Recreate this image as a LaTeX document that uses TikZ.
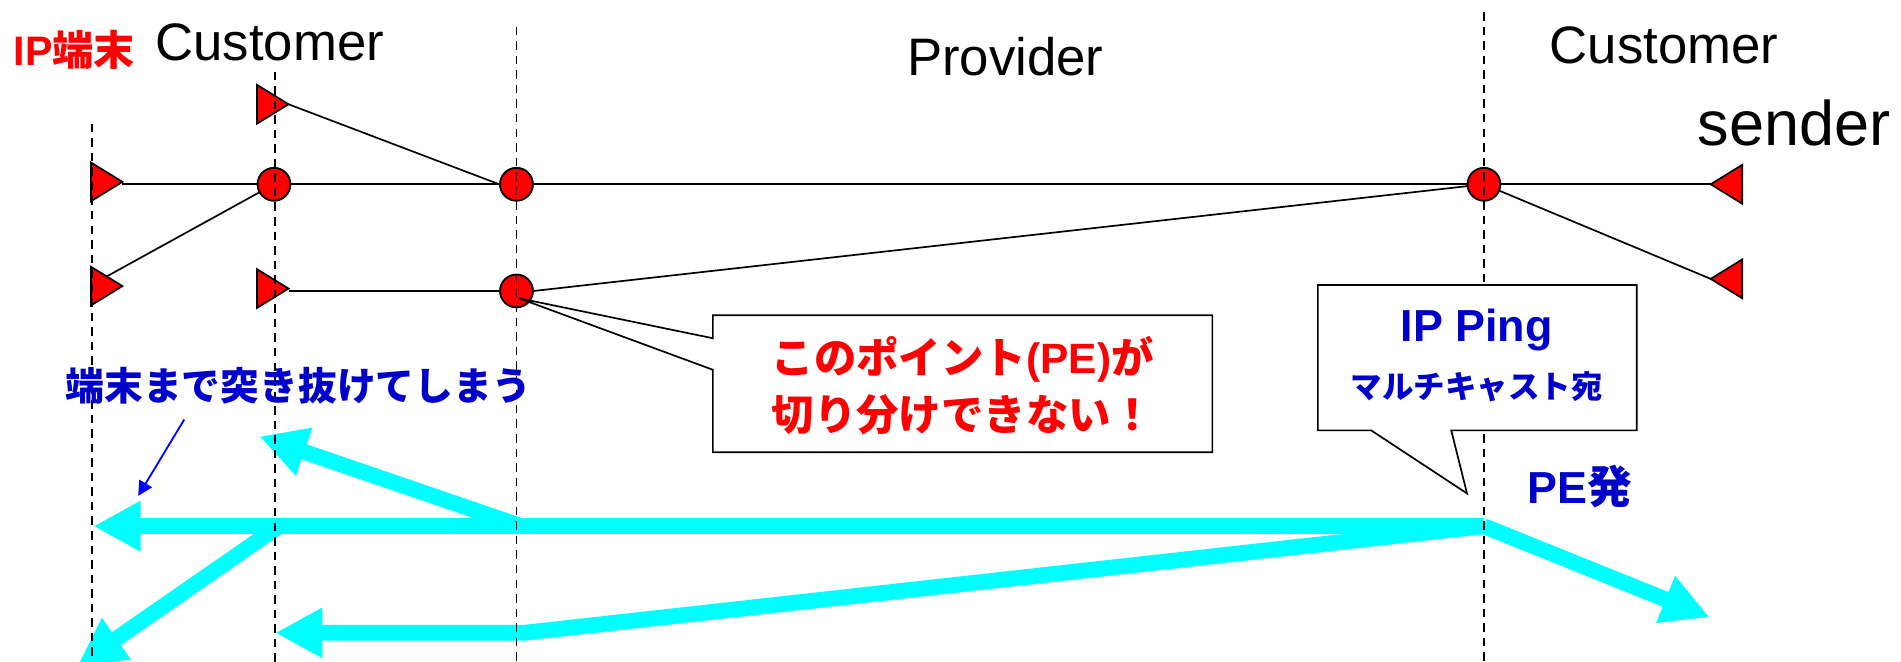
\documentclass[tikz,border=0pt]{standalone}
\usepackage{fontspec}
\setmainfont{Liberation Sans}
\newfontfamily\jp{Noto Sans CJK JP}
\usetikzlibrary{arrows.meta}
\definecolor{pered}{HTML}{FF0000}
\definecolor{txtblue}{HTML}{0000CC}
\definecolor{arrblue}{HTML}{0000FF}
\definecolor{flowcyan}{HTML}{00FFFF}
% host triangle: #1 apex name, (#2,#3) base midpoint, #4 direction (+1 right, -1 left)
\newcommand\hosttri[4]{%
  \draw[hostsh] (#2,#3) ++(0,-16) -- ++(#4*26,16) coordinate (#1) -- ++(-#4*26,16) -- cycle;
  \path (#2,#3) ++(#4*13,-8) coordinate (#1-up);}
\begin{document}
\begin{tikzpicture}[x=1pt,y=-1pt,
  vline/.style={line width=1.3pt, dash pattern=on 7pt off 5pt},
  link/.style={line width=1.4pt},
  router/.style={circle, draw=black, line width=1.4pt, fill=pered, minimum size=27pt, inner sep=0pt},
  hostsh/.style={draw=black, line width=1.4pt, fill=pered, line join=miter},
  flow/.style={draw=flowcyan, line width=13pt, -{Triangle[length=39pt,width=39pt]}},
  callout/.style={draw=black, line width=1.4pt, fill=white},
  big/.style={inner sep=0pt, font=\fontsize{43.5}{50}\selectfont},
]
\useasboundingbox (0,0) rectangle (1568,546);
\fill[white] (0,0) rectangle (1568,546);

% cyan flows
\coordinate (pe) at (1224,434);
\coordinate (kinkA) at (430,434);
\coordinate (kinkB) at (230,434);
\coordinate (kinkC) at (432,522);
\coordinate (fA) at (77,434);
\coordinate (fB) at (214,360);
\coordinate (fC) at (64,549);
\coordinate (fD) at (227,522);
\coordinate (fE) at (1410,509);
\draw[flow] (pe) -- (fA);
\draw[flow] (kinkA) -- (fB);
\draw[flow] (kinkB) -- (fC);
\draw[flow] (pe) -- (kinkC) -- (fD);
\draw[flow] (pe) -- (fE);

% routers (named, used for connectors)
\path node[router] (C1) at (226,152) {}
      node[router] (C2) at (426,152) {}
      node[router] (C3) at (1224,152) {}
      node[router] (C4) at (426,240) {};
% host apex coordinates (defined first, drawn later)
\path (101,150) coordinate (L1) (101,236) coordinate (L2) (238,86) coordinate (T0)
      (238,238) coordinate (M2) (1411,152) coordinate (R1) (1411,230) coordinate (R2)
      (88,228) coordinate (L2-up);

\draw[link] (L1 |- C1.west) -- (C1.west);
\draw[link] (C1.east) -- (C2.west);
\draw[link] (C2.east) -- (C3.west);
\draw[link] (C3.east) -- (R1);
\draw[link] (T0) -- (C2.west);
\draw[link] (L2-up) -- (C1);
\draw[link] (M2 |- C4.west) -- (C4.west);
\draw[link] (C4.east) -- (C3);
\draw[link] (C3) -- (R2);

% shapes on top of lines
\node[router] at (C1) {};
\node[router] at (C2) {};
\node[router] at (C3) {};
\node[router] at (C4) {};
\hosttri{L1}{75}{150}{1}
\hosttri{L2}{75}{236}{1}
\hosttri{T0}{212}{86}{1}
\hosttri{M2}{212}{238}{1}
\hosttri{R1}{1437}{152}{-1}
\hosttri{R2}{1437}{230}{-1}

% dashed boundaries
\coordinate (d1t) at (76,102);  \coordinate (d1b) at (76,546);
\coordinate (d2t) at (227,59);  \coordinate (d2b) at (227,546);
\coordinate (d3t) at (426,22);  \coordinate (d3b) at (426,546);
\coordinate (d4t) at (1224,10); \coordinate (d4b) at (1224,546);
\draw[vline] (d1t) -- (d1b);
\draw[vline] (d2t) -- (d2b);
\draw[vline] (d3t) -- (d3b);
\draw[vline] (d4t) -- (d4b);

% callouts
\coordinate (tip1) at ([shift={(2,6)}]C4.center);
\draw[callout] (588,260) -- (1000,260) -- (1000,373) -- (588,373) -- (588,305) -- (tip1) -- (588,279) -- cycle;
\draw[callout] (1087,235) -- (1350,235) -- (1350,355) -- (1197,355) -- (1210,407) -- (1131,355) -- (1087,355) -- cycle;

% texts
\node[big, anchor=base west] (cust1) at (128,49.5) {Customer};
\node[big, anchor=base west] (prov) at (748,62) {Provider};
\node[big, anchor=base west] (cust2) at (1278,52) {Customer};
\node[inner sep=0pt, anchor=base west, font=\fontsize{52}{60}\selectfont] (snd) at (1400,120) {sender};
\node[inner sep=0pt, anchor=base west, text=pered, font=\fontsize{34}{40}\selectfont\bfseries] (ipt) at (11,54) {IP{\jp 端末}};
\node[inner sep=0pt, align=center, text=pered, font=\fontsize{35}{47}\selectfont\bfseries] (msg1) at (794,318) {{\jp このポイント}(PE){\jp が}\\{\jp 切り分けできない！}};
\node[inner sep=0pt, anchor=base, text=txtblue, font=\fontsize{37}{44}\selectfont\bfseries] (ping1) at (1218,282) {IP Ping};
\node[inner sep=0pt, text=txtblue, font=\fontsize{26}{30}\selectfont\bfseries\jp] (ping2) at (1218,319) {マルチキャスト宛};
\node[inner sep=0pt, anchor=base west, text=txtblue, font=\fontsize{37}{44}\selectfont\bfseries] (pefrom) at (1260,415) {PE{\jp 発}};
\node[inner sep=0pt, text=txtblue, font=\fontsize{32}{38}\selectfont\bfseries\jp] (thru) at (246,318) {端末まで突き抜けてしまう};

% thin blue pointer
\coordinate (bp1) at (152,346);
\coordinate (bp2) at (114,409);
\draw[arrblue, line width=1.5pt, -{Triangle[length=12pt,width=12pt]}] (bp1) -- (bp2);
\end{tikzpicture}
\end{document}
